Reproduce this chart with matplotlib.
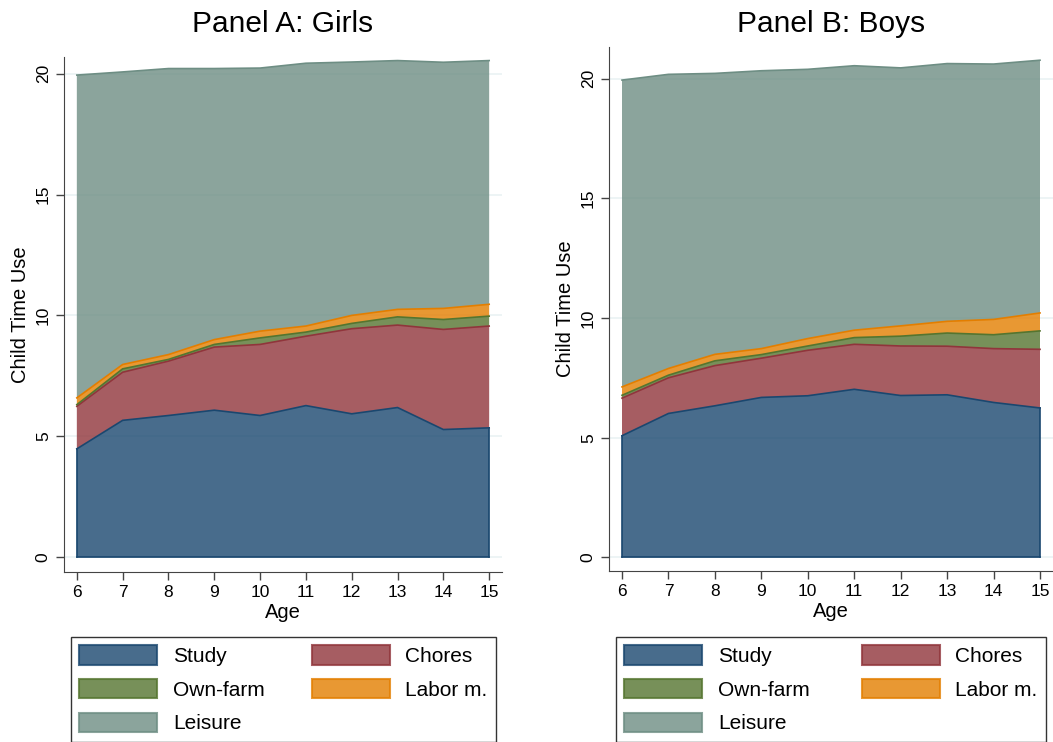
import numpy as np
import matplotlib
matplotlib.use("Agg")
import matplotlib.pyplot as plt
from matplotlib.patches import Patch

plt.rcParams['font.family'] = ['Liberation Sans', 'DejaVu Sans']

# Data: hours per day by activity, ages 6-15
ages = [6, 7, 8, 9, 10, 11, 12, 13, 14, 15]
activities = ["Study", "Chores", "Own-farm", "Labor m.", "Leisure"]

girls_study = [4.48, 5.66, 5.86, 6.08, 5.86, 6.27, 5.93, 6.19, 5.28, 5.35]
girls_chores = [1.76, 1.99, 2.25, 2.61, 2.94, 2.87, 3.52, 3.41, 4.14, 4.21]
girls_farm = [0.07, 0.14, 0.07, 0.11, 0.27, 0.17, 0.22, 0.34, 0.41, 0.41]
girls_labor = [0.28, 0.18, 0.20, 0.20, 0.28, 0.25, 0.33, 0.31, 0.46, 0.49]
girls_leisure = [13.35, 12.10, 11.83, 11.21, 10.88, 10.87, 10.48, 10.29, 10.18, 10.08]

boys_study = [5.08, 6.01, 6.33, 6.68, 6.75, 7.02, 6.76, 6.79, 6.47, 6.24]
boys_chores = [1.57, 1.49, 1.68, 1.64, 1.90, 1.88, 2.07, 2.03, 2.25, 2.45]
boys_farm = [0.12, 0.11, 0.20, 0.15, 0.18, 0.28, 0.41, 0.55, 0.58, 0.77]
boys_labor = [0.35, 0.28, 0.27, 0.25, 0.31, 0.31, 0.43, 0.49, 0.64, 0.75]
boys_leisure = [12.82, 12.29, 11.74, 11.61, 11.25, 11.05, 10.78, 10.77, 10.67, 10.56]

# stata s2color-like palette
edge_cols = ["#1a476f", "#90353b", "#55752f", "#e37e00", "#6e8e84"]
alpha = 0.8

W, H = 1053, 742
fig = plt.figure(figsize=(W / 100, H / 100), dpi=100)


def panel(rect, series, title, ylim, title_pad):
    ax = fig.add_axes(rect)
    ax.set_axisbelow(True)
    ax.grid(axis='y', color='#eaf2f3', linewidth=1.2)
    ax.stackplot(ages, *series, colors=edge_cols, alpha=alpha)
    # outline each layer in the solid colour
    cum = np.zeros(len(ages))
    for s, c in zip(series, edge_cols):
        cum = cum + np.array(s)
        ax.plot(ages, cum, color=c, lw=1.2, zorder=3)
    ax.plot([ages[0], ages[0]], [0, series[0][0]], color=edge_cols[0], lw=1.2)
    ax.plot([ages[-1], ages[-1]], [0, series[0][-1]], color=edge_cols[0], lw=1.2)
    ax.plot(ages, np.zeros(len(ages)), color=edge_cols[0], lw=1.2)
    ax.set_xlim(5.72, 15.28)
    ax.set_ylim(*ylim)
    ax.set_xticks(ages)
    ax.set_yticks([0, 5, 10, 15, 20])
    ax.tick_params(axis='both', labelsize=12.5, length=6, width=1, color='#444444')
    for lab in ax.get_yticklabels():
        lab.set_rotation(90)
        lab.set_va('center')
    for side in ['top', 'right']:
        ax.spines[side].set_visible(False)
    for side in ['left', 'bottom']:
        ax.spines[side].set_color('#444444')
    ax.set_xlabel("Age", fontsize=14.5, labelpad=2)
    ax.set_ylabel("Child Time Use", fontsize=14.5, labelpad=4)
    ax.set_title(title, fontsize=21.5, pad=title_pad)
    return ax


ax1 = panel([64 / W, 1 - 571.7 / H, 438 / W, (571.7 - 56.7) / H],
            [girls_study, girls_chores, girls_farm, girls_labor, girls_leisure],
            "Panel A: Girls", (-0.6, 20.7), 18)
ax2 = panel([609 / W, 1 - 570.7 / H, 444 / W, (570.7 - 47.3) / H],
            [boys_study, boys_chores, boys_farm, boys_labor, boys_leisure],
            "Panel B: Boys", (-0.56, 21.31), 11)

# legends: column-major order so rows read Study/Chores, Own-farm/Labor m., Leisure
order = [0, 2, 4, 1, 3]
handles = [Patch(facecolor=edge_cols[i], edgecolor=edge_cols[i], alpha=alpha, lw=1.5) for i in order]
labels = [activities[i] for i in order]
for x0, x1 in [(71, 496), (616, 1046)]:
    leg = fig.legend(handles, labels, loc='upper left', ncol=2, mode='expand',
                     bbox_to_anchor=(x0 / W, 1 / H, (x1 - x0) / W, 104 / H),
                     bbox_transform=fig.transFigure, fontsize=15, fancybox=False,
                     edgecolor='black', handlelength=3.75, handleheight=1.05,
                     handletextpad=0.75, labelspacing=0.62, borderaxespad=0,
                     borderpad=0.4, columnspacing=1.5)
    leg.get_frame().set_linewidth(1)

fig.savefig("out.png", dpi=100)
